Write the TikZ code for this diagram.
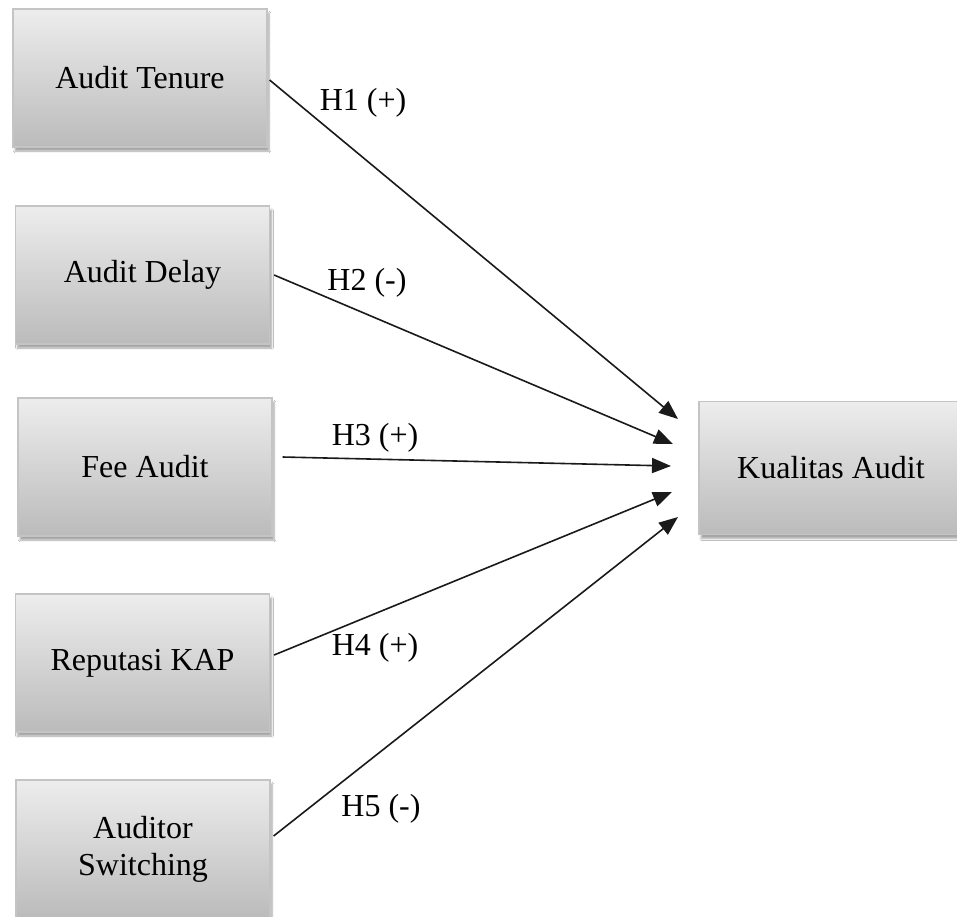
\documentclass[tikz,border=0pt]{standalone}
\usepackage{fontspec}
\setmainfont{Liberation Serif}
\usetikzlibrary{arrows.meta,shadows.blur}
\definecolor{boxtop}{HTML}{EDEDED}
\definecolor{boxbot}{HTML}{BBBBBB}
\definecolor{boxline}{HTML}{C4C4C4}
\definecolor{inkline}{HTML}{1A1A1A}
\tikzset{
  varbox/.style={rectangle, draw=boxline, line width=1.2pt,
    top color=boxtop, bottom color=boxbot,
    minimum width=254pt, minimum height=138pt, inner sep=0pt,
    align=center, font=\fontsize{32}{37}\selectfont,
    blur shadow={shadow xshift=2pt, shadow yshift=-4pt, shadow blur steps=6, shadow opacity=35}},
  hyp/.style={draw=inkline, line width=1.6pt, -{Triangle[length=19pt,width=15pt]}},
  hlabel/.style={anchor=base, inner sep=0pt, font=\fontsize{32}{37}\selectfont}
}
\begin{document}
\begin{tikzpicture}[x=1pt,y=-1pt]
  \useasboundingbox (0,0) rectangle (957,916);
  \clip (0,0) rectangle (957,916);
  \fill[white] (0,0) rectangle (957,916);

  % independent variables
  \node[varbox] (tenure) at (140,78) {Audit Tenure};
  \node[varbox] (delay)  at (142.5,275) {Audit Delay};
  \node[varbox] (fee)    at (145,467) {Fee Audit};
  \node[varbox] (kap)    at (142.5,663) {Reputasi KAP};
  \node[varbox] (switch) at (143,849) {Auditor\\Switching};

  % dependent variable, running past the right edge
  \node[varbox, minimum width=272pt, minimum height=133pt] (quality) at (835,468) {\hspace*{-8pt}Kualitas Audit};

  % arrow tips in front of the dependent variable
  \coordinate (t1) at (678,419);
  \coordinate (t2) at (673,444);
  \coordinate (t3) at (671,466);
  \coordinate (t4) at (672,492);
  \coordinate (t5) at (678,517);

  \draw[hyp] ([shift={(2,2)}]tenure.east) -- (t1);
  \draw[hyp] ([shift={(4,0)}]delay.east) -- (t2);
  \draw[hyp] ([shift={(10,-10)}]fee.east) -- (t3);
  \draw[hyp] ([shift={(4,-8)}]kap.east) -- (t4);
  \draw[hyp] ([shift={(3,-13)}]switch.east) -- (t5);

  % hypothesis labels
  \node[hlabel] (h1) at (363,110) {H1 (+)};
  \node[hlabel] (h2) at (367,290) {H2 (-)};
  \node[hlabel] (h3) at (375,445) {H3 (+)};
  \node[hlabel] (h4) at (375,655) {H4 (+)};
  \node[hlabel] (h5) at (381,816) {H5 (-)};
\end{tikzpicture}
\end{document}
